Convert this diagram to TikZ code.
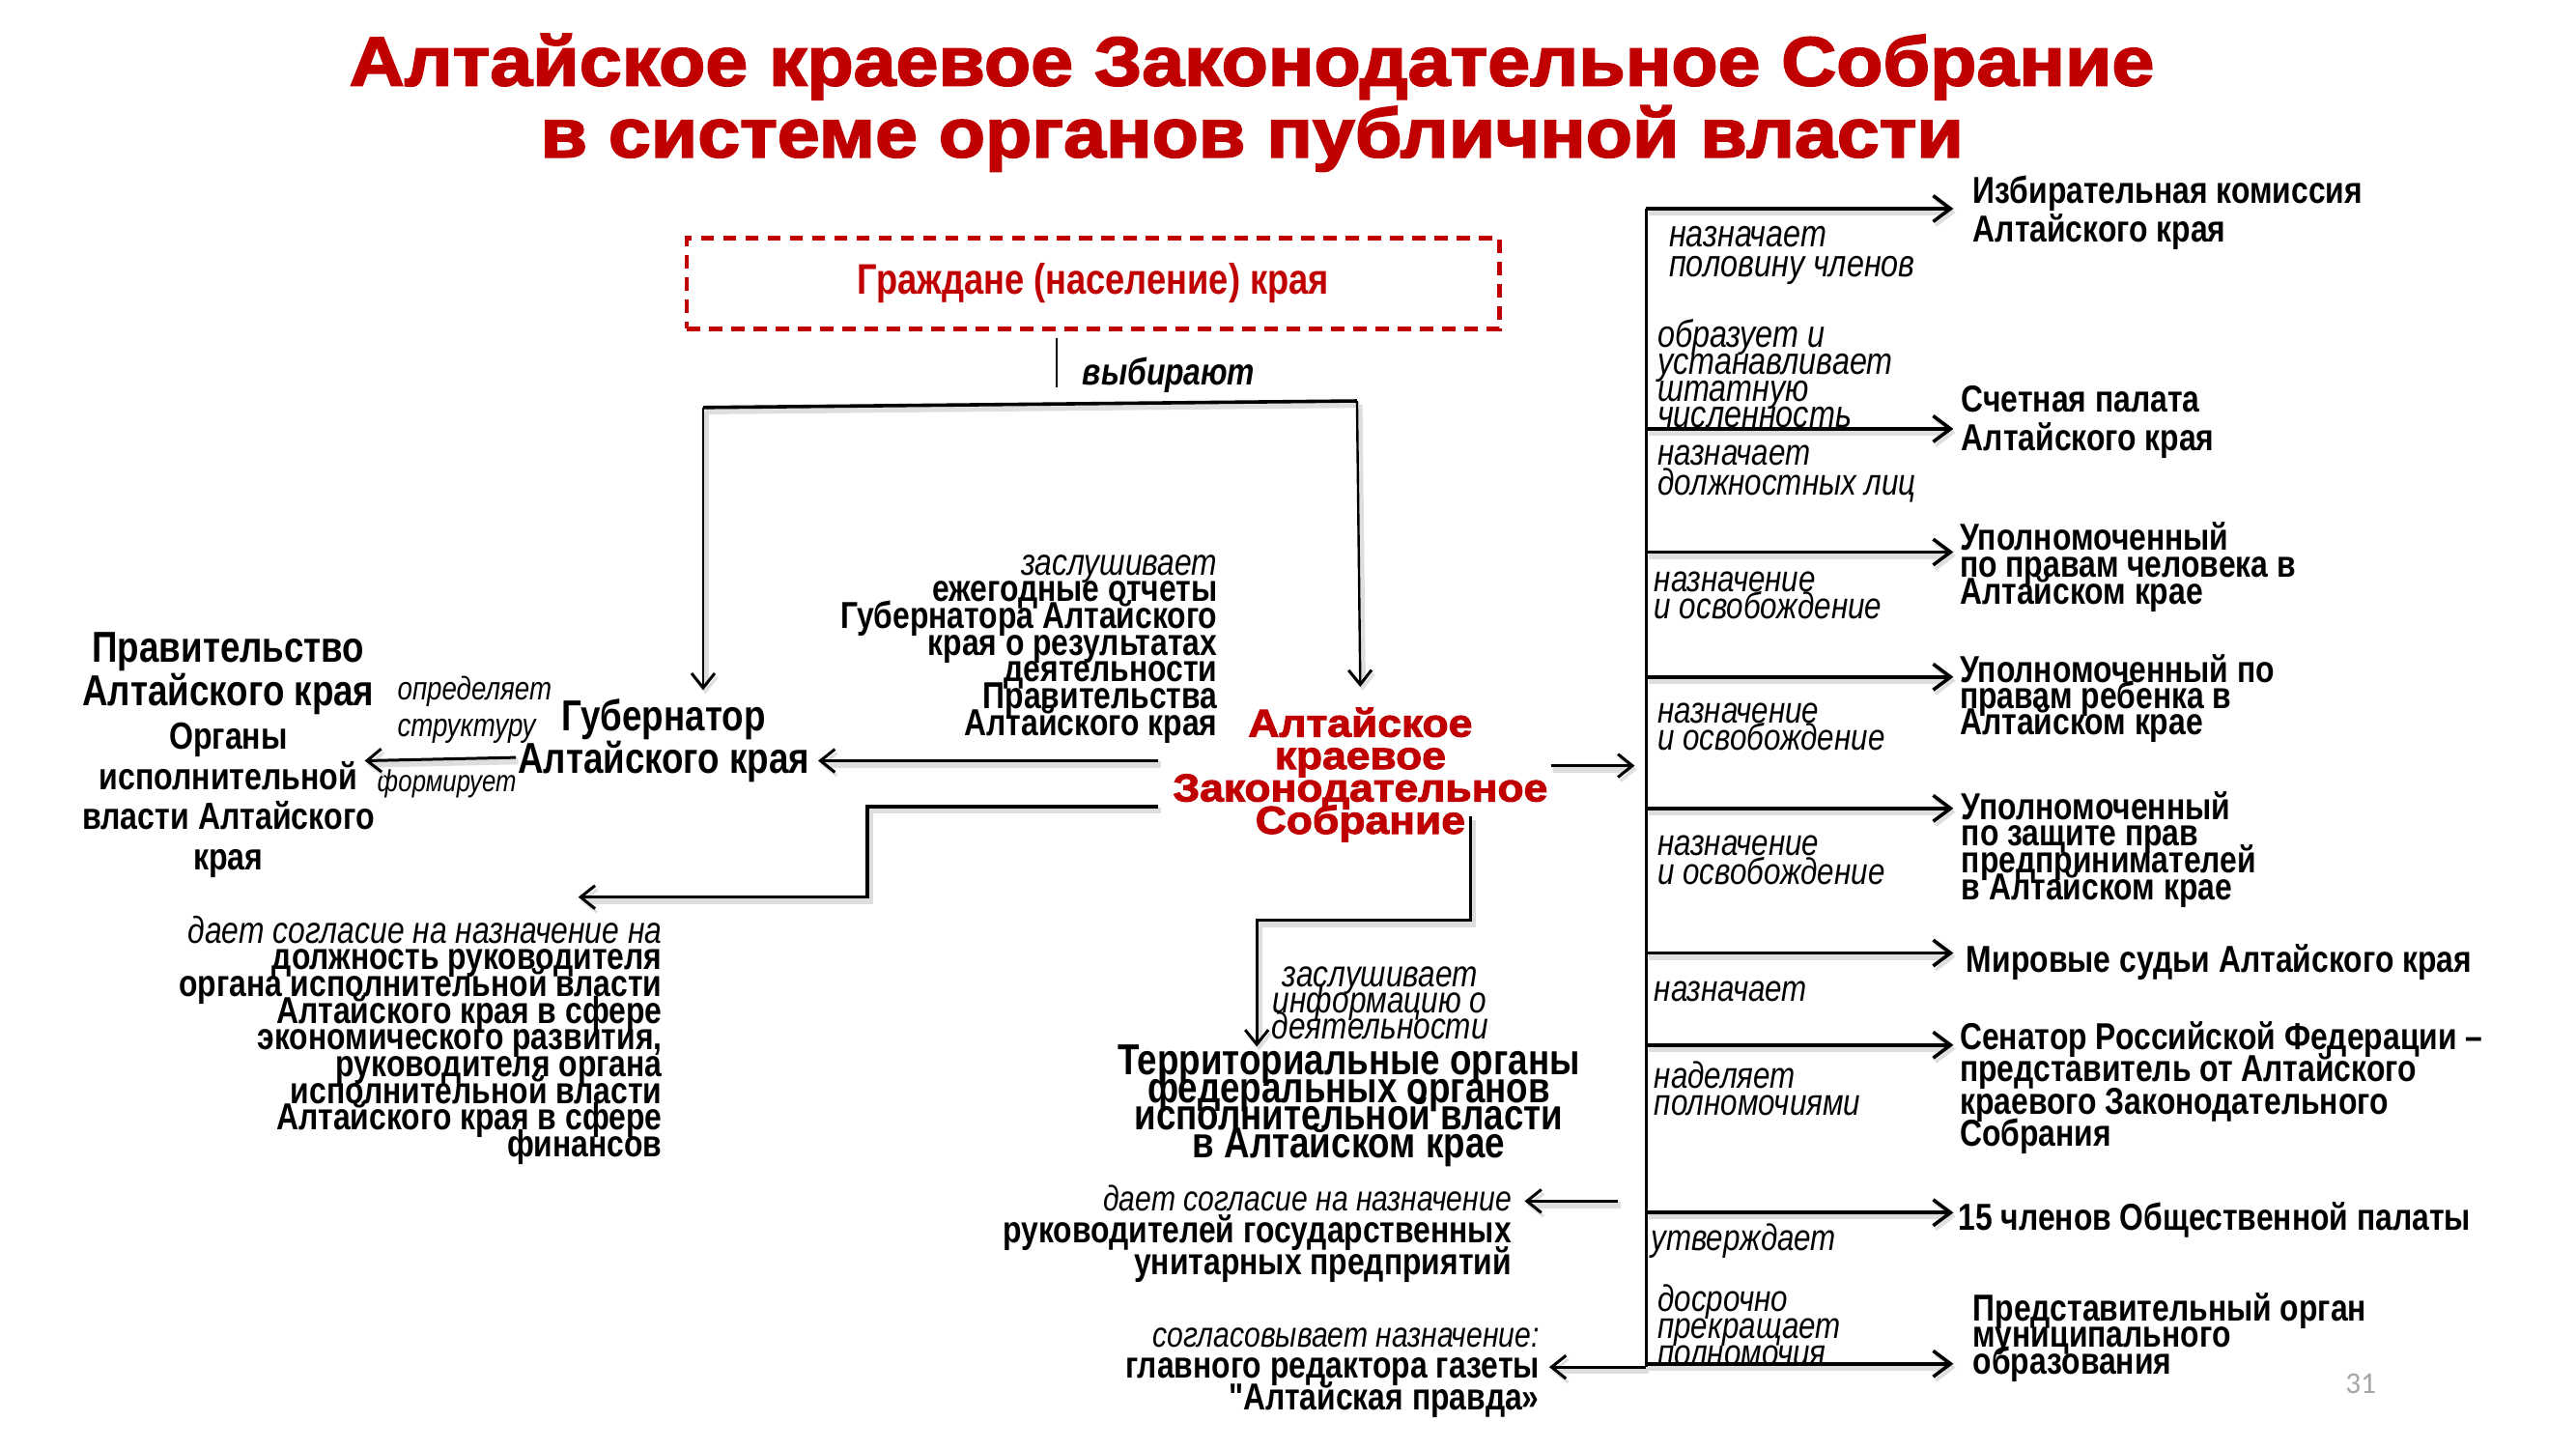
\documentclass[tikz,border=0pt]{standalone}
\usepackage{fontspec}
\setmainfont{Liberation Sans}
\newfontfamily\nar[FakeStretch=0.82,Ligatures=TeXOff]{Liberation Sans}
\newfontfamily\heavy[FakeBold=2.5,FakeStretch=1.1]{Liberation Sans}
\newfontfamily\pgnum{Carlito}
\usetikzlibrary{arrows.meta,calc}
\definecolor{tred}{HTML}{C00000}
\definecolor{pggray}{HTML}{A6A6A6}
\AtBeginDocument{\lineskiplimit=-\maxdimen}
\tikzset{
  every node/.style={inner sep=0pt, outer sep=0pt},
  shad/.style={preaction={draw=black!13, line width=2.2pt, transform canvas={xshift=0.8pt,yshift=-1.3pt}}},
  ln/.style={line width=1pt, shad},
  thinln/.style={line width=0.7pt},
  arr/.style={line width=1pt, shad, -{Straight Barb[length=5pt,width=8pt,line width=1pt]}},
  barr/.style={line width=1.2pt, shad, -{Straight Barb[length=6pt,width=9pt,line width=1.2pt]}},
  ttl/.style={anchor=base, text=tred, font=\heavy\bfseries\fontsize{24}{26}\selectfont},
  bigtxt/.style={align=center, font=\nar\bfseries\fontsize{15}{#1}\selectfont},
  midtxt/.style={font=\nar\bfseries\fontsize{13}{#1}\selectfont},
  ital/.style={font=\nar\itshape\fontsize{12.8}{#1}\selectfont},
  tgt/.style={anchor=west, align=left, midtxt=#1},
  lbl/.style={anchor=west, align=left, ital=#1},
}
\newcommand\leadit[1]{{\mdseries\itshape #1}}
\begin{document}
\begin{tikzpicture}[x=0.02cm,y=-0.02cm]
\useasboundingbox (0,0) rectangle (1568,882);

% title
\node[ttl] (title1) at (762,52) {Алтайское краевое Законодательное Собрание};
\node[ttl] (title2) at (762,95.6) {в системе органов публичной власти};

% citizens
\node[draw=tred, line width=1.6pt, dash pattern=on 4.5pt off 3.2pt,
      minimum width=9.9cm, minimum height=1.1cm, text=tred,
      font=\nar\bfseries\fontsize{14.8}{15}\selectfont] (cit) at (665.5,172.5) {Граждане (население) края};
\node[anchor=west, font=\nar\bfseries\itshape\fontsize{13}{15}\selectfont] (vyb) at (659,228) {выбирают};

% governor, government
\node[bigtxt=14.7] (gov) at (404,451) {Губернатор\\Алтайского края};
\node[bigtxt=15.2] (prav) at (139,410) {Правительство\\Алтайского края};
\node[align=center, font=\nar\bfseries\fontsize{13.1}{14}\selectfont] (organy) at (139,487) {Органы\\исполнительной\\власти Алтайского\\края};
\node[anchor=west, align=left, font=\nar\itshape\fontsize{11.3}{12.5}\selectfont] (opr) at (242,432) {определяет\\структуру};
\node[font=\nar\itshape\fontsize{10.5}{12}\selectfont] (form) at (272,477) {формирует};

\node[anchor=east, align=right, midtxt=9.25] (zasl) at (741,395)
  {\leadit{заслушивает}\\ежегодные отчеты\\Губернатора Алтайского\\края о результатах\\деятельности\\Правительства\\Алтайского края};

% assembly
\node[align=center, text=tred, font=\heavy\bfseries\fontsize{13.5}{11.2}\selectfont] (asm) at (828,471.5)
  {Алтайское\\краевое\\Законодательное\\Собрание};

\node[anchor=east, align=right, midtxt=9.25] (cons) at (403,633)
  {\leadit{дает согласие на назначение на}\\должность руководителя\\органа исполнительной власти\\Алтайского края в сфере\\экономического развития,\\руководителя органа\\исполнительной власти\\Алтайского края в сфере\\финансов};

\node[align=center, font=\nar\itshape\fontsize{12.9}{9.1}\selectfont] (info) at (840,610.5) {заслушивает\\информацию о\\деятельности};
\node[bigtxt=9.5] (terr) at (821,673) {Территориальные органы\\федеральных органов\\исполнительной власти\\в Алтайском крае};

\node[anchor=east, align=right, midtxt=11] (gup) at (920,751)
  {\leadit{\fontsize{12.3}{11}\selectfont дает согласие на назначение}\\руководителей государственных\\унитарных предприятий};
\node[anchor=east, align=right, midtxt=10.8] (ed) at (937,835.5)
  {\leadit{\fontsize{12.3}{11}\selectfont согласовывает назначение:}\\главного редактора газеты\\"Алтайская правда»};

% labels on the bus
\node[lbl=10.2, font=\nar\itshape\fontsize{13.2}{10.2}\selectfont] (l1) at (1016,155.5) {назначает\\половину членов};
\node[lbl=9.25, font=\nar\itshape\fontsize{13.2}{9.25}\selectfont] (l2) at (1009,227.5) {образует и\\устанавливает\\штатную\\численность};
\node[lbl=10.2] (l3) at (1009,288.5) {назначает\\должностных лиц};
\node[lbl=9.3] (l4) at (1007,362.5) {назначение\\и освобождение};
\node[lbl=9.3] (l5) at (1009,442.5) {назначение\\и освобождение};
\node[lbl=9.8] (l6) at (1009,523.5) {назначение\\и освобождение};
\node[lbl=9.5] (l7) at (1007,603.5) {назначает};
\node[lbl=9.6] (l8) at (1007,662.5) {наделяет\\полномочиями};
\node[lbl=9.5] (l9) at (1005,755.5) {утверждает};
\node[lbl=9.3] (l10) at (1009,806.5) {досрочно\\прекращает\\полномочия};

% targets
\node[tgt=13.6] (t1) at (1201,129.5) {Избирательная комиссия\\Алтайского края};
\node[tgt=13.6] (t2) at (1194,257) {Счетная палата\\Алтайского края};
\node[tgt=9.4] (t3) at (1193,345) {Уполномоченный\\по правам человека в\\Алтайском крае};
\node[tgt=9.1] (t4) at (1193,425) {Уполномоченный по\\правам ребенка в\\Алтайском крае};
\node[tgt=9.3] (t5) at (1194,517) {Уполномоченный\\по защите прав\\предпринимателей\\в Алтайском крае};
\node[tgt=9.3] (t6) at (1197,585.5) {Мировые судьи Алтайского края};
\node[tgt=11.2] (t7) at (1193,662) {Сенатор Российской Федерации –\\представитель от Алтайского\\краевого Законодательного\\Собрания};
\node[tgt=9.3] (t8) at (1192,742.5) {15 членов Общественной палаты};
\node[tgt=9.1] (t9) at (1201,814) {Представительный орган\\муниципального\\образования};

\node[font=\pgnum\fontsize{10.5}{12}\selectfont, text=pggray] (pg) at (1437,842) {31};

% connectors
\coordinate (v0) at (643,206); \coordinate (v1) at (643,236);
\draw[thinln] (v0) -- (v1);
\coordinate (barL) at (428,248); \coordinate (barR) at (826,244);
\coordinate (govIn) at (428,420); \coordinate (asmIn) at (828,418);
\draw[ln, line width=1.2pt] (barL) -- (barR);
\draw[arr, line width=0.8pt] (barL) -- (govIn);
\draw[arr, line width=0.8pt] (barR) -- (asmIn);

\coordinate (govOut) at (314,461); \coordinate (pravIn) at (222,463);
\draw[arr] (govOut) -- (pravIn);
\coordinate (asmOutL) at (705,463); \coordinate (govInR) at (498,463);
\draw[arr, line width=1.2pt] (asmOutL) -- (govInR);
\coordinate (asmOutR) at (944,466); \coordinate (busIn) at (995,466);
\draw[arr, line width=1.2pt] (asmOutR) -- (busIn);
\coordinate (asmOutL2) at (705,491); \coordinate (e1) at (528,491);
\coordinate (e2) at (528,546); \coordinate (consIn) at (352,546);
\draw[arr, line width=1.2pt] (asmOutL2) -- (e1) -- (e2) -- (consIn);
\coordinate (asmOutB) at (895,497); \coordinate (f1) at (895,560);
\coordinate (f2) at (765,560); \coordinate (terrIn) at (765,637);
\draw[arr] (asmOutB) -- (f1) -- (f2) -- (terrIn);

\coordinate (busTop) at (1002,127); \coordinate (busBot) at (1002,832);
\draw[line width=1.2pt] (busTop) -- (busBot);
\coordinate (tipx) at (1189,0);
\foreach \n/\y in {1/127,2/261,3/336,4/412,5/492,6/580,7/636,8/738,9/830}{
  \coordinate (s\n) at (1002,\y);
  \draw[barr] (s\n) -- (s\n -| tipx);
}
\coordinate (gupOut) at (985,731); \coordinate (gupIn) at (928,731);
\draw[arr] (gupOut) -- (gupIn);
\coordinate (edIn) at (943,832);
\draw[arr] (busBot) -- (edIn);
\end{tikzpicture}
\end{document}
